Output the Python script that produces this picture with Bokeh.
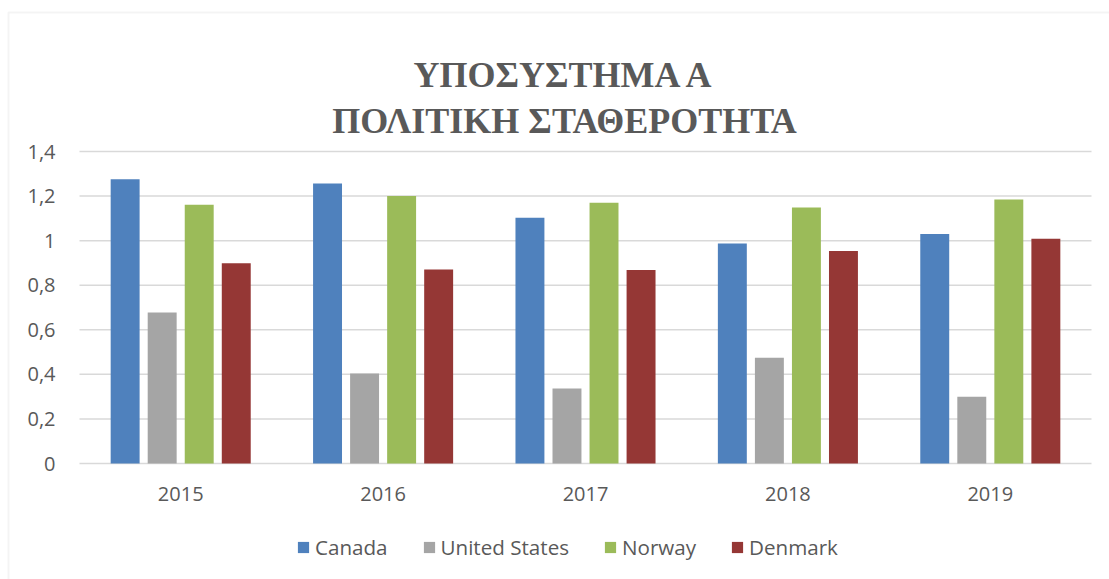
from bokeh.plotting import figure
from bokeh.models import (ColumnDataSource, Range1d, Legend, LegendItem, Label,
                          BoxAnnotation)
from bokeh.transform import dodge
from bokeh.core.properties import value
from bokeh.embed import file_html
from bokeh.resources import INLINE

# ---- data ----
years = ["2015", "2016", "2017", "2018", "2019"]
series = ["Canada", "United States", "Norway", "Denmark"]
canada = [1.275, 1.256, 1.103, 0.987, 1.030]
united_states = [0.678, 0.404, 0.336, 0.475, 0.299]
norway = [1.161, 1.200, 1.170, 1.149, 1.185]
denmark = [0.898, 0.870, 0.868, 0.953, 1.009]
colors = ["#4F81BD", "#A5A5A5", "#9BBB59", "#953735"]
y_ticks = [0, 0.2, 0.4, 0.6, 0.8, 1.0, 1.2, 1.4]
y_tick_labels = ["0", "0,2", "0,4", "0,6", "0,8", "1", "1,2", "1,4"]
title_lines = ["ΥΠΟΣΥΣΤΗΜΑ Α", "ΠΟΛΙΤΙΚΗ ΣΤΑΘΕΡΟΤΗΤΑ"]

# ---- layout constants (pixels) ----
W, H = 1109, 579
PLOT_LEFT, PLOT_RIGHT, PLOT_TOP, PLOT_BOTTOM = 79, 1091, 151, 463
Y_MAX = 1.4
TEXT = "#595959"
GRID = "#d9d9d9"
FONT = "Open Sans"

n = len(years)
px_x = (PLOT_RIGHT - PLOT_LEFT) / n          # pixels per category
px_y = (PLOT_BOTTOM - PLOT_TOP) / Y_MAX      # pixels per value unit
x0 = PLOT_LEFT + px_x / 2                     # canvas x of first category centre
x_range = Range1d(-x0 / px_x, (W - x0) / px_x)
y_range = Range1d(-(H - PLOT_BOTTOM) / px_y, PLOT_BOTTOM / px_y)

source = ColumnDataSource(dict(xi=list(range(n)), years=years, canada=canada,
                               united_states=united_states, norway=norway,
                               denmark=denmark))
fields = ["canada", "united_states", "norway", "denmark"]

p = figure(width=W, height=H, x_range=x_range, y_range=y_range,
           x_axis_type=None, y_axis_type=None, output_backend="svg",
           toolbar_location=None, min_border_left=0, min_border_right=0,
           min_border_top=0, min_border_bottom=0)
p.outline_line_color = None
p.background_fill_color = "white"
p.border_fill_color = "white"
p.xgrid.visible = False
p.ygrid.visible = False

# horizontal gridlines over the plot area only (the one at 0 acts as the axis line)
gsrc = ColumnDataSource(dict(y=y_ticks, x0=[-0.5] * len(y_ticks),
                             x1=[n - 0.5] * len(y_ticks)))
p.segment(x0="x0", x1="x1", y0="y", y1="y", source=gsrc,
          line_color=GRID, line_width=1.5)

pitch = 0.183
width = 0.143
renderers = []
for i, (f, c) in enumerate(zip(fields, colors)):
    r = p.vbar(x=dodge("xi", (i - 1.5) * pitch), top=f, width=width,
               source=source, fill_color=c, line_color=None)
    renderers.append(r)

# y tick labels
ysrc = ColumnDataSource(dict(y=y_ticks, label=y_tick_labels, x=[-0.5] * len(y_ticks)))
p.text(x="x", y="y", text="label", source=ysrc, x_offset=-24,
       text_align="right", text_baseline="middle", text_font=value(FONT),
       text_font_size=value("20px"), text_color=TEXT)

# x tick labels
xsrc = ColumnDataSource(dict(x=list(range(n)), y=[0] * n, label=years))
p.text(x="x", y="y", text="label", source=xsrc, y_offset=30,
       text_align="center", text_baseline="middle", text_font=value(FONT),
       text_font_size=value("20px"), text_color=TEXT)

# legend
legend = Legend(items=[LegendItem(label=s, renderers=[r]) for s, r in zip(series, renderers)],
                orientation="horizontal", location=(296, 18), padding=0, margin=0,
                spacing=34, label_standoff=5, glyph_width=14, glyph_height=14,
                label_text_font=FONT, label_text_font_size="20.6px",
                label_text_color=TEXT, border_line_color=None,
                background_fill_alpha=0)
p.add_layout(legend, "center")

# title lines
for txt, yb in zip(title_lines, [74, 120]):
    p.add_layout(Label(x=564, y=yb, x_units="canvas", y_units="canvas", text=txt,
                       text_align="center", text_baseline="alphabetic",
                       text_font="Liberation Serif", text_font_style="bold",
                       text_font_size="36px", text_color=TEXT))

# outer chart border
p.add_layout(BoxAnnotation(left=8, right=W + 30, top=12, bottom=H + 30,
                           left_units="canvas", right_units="canvas",
                           top_units="canvas", bottom_units="canvas",
                           fill_color=None, fill_alpha=0, line_color=GRID, line_width=2))

open("out.html", "w").write(file_html(p, INLINE))
